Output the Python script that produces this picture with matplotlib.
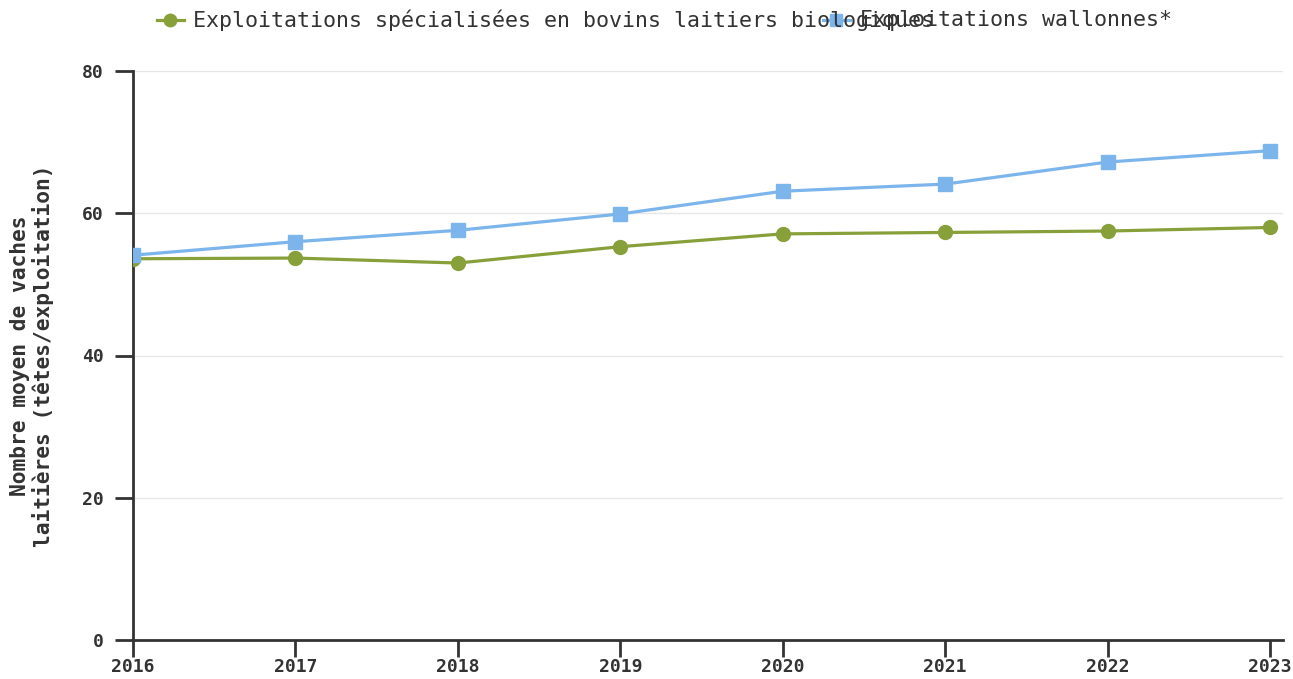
import matplotlib
matplotlib.use("Agg")
import matplotlib.pyplot as plt
from matplotlib.lines import Line2D

years = [2016, 2017, 2018, 2019, 2020, 2021, 2022, 2023]
bio = [53.6, 53.7, 53.0, 55.3, 57.1, 57.3, 57.5, 58.0]
wallonie = [54.1, 56.0, 57.6, 59.9, 63.1, 64.1, 67.2, 68.8]
label_bio = "Exploitations spécialisées en bovins laitiers biologiques"
label_wal = "Exploitations wallonnes*"
y_ticks = [0, 20, 40, 60, 80]

green = "#88a03a"
blue = "#7cb5ec"
dark = "#333333"

plt.rcParams['font.family'] = ['DejaVu Sans Mono']

fig = plt.figure(figsize=(12.93, 6.79), dpi=100)
ax = fig.add_axes([133 / 1293, 1 - 640 / 679, 1150 / 1293, (640 - 71) / 679])

ax.plot(years, bio, color=green, lw=2.3, marker='o', ms=10, zorder=3)
ax.plot(years, wallonie, color=blue, lw=2.3, marker='s', ms=10.5, zorder=3)

ax.set_xlim(2016, 2023.08)
ax.set_ylim(0, 80)
ax.set_yticks(y_ticks)
ax.set_xticks(years)
ax.grid(axis='y', color='#e6e6e6', lw=1)
ax.set_axisbelow(True)
for s in ['top', 'right']:
    ax.spines[s].set_visible(False)
for s in ['left', 'bottom']:
    ax.spines[s].set_color(dark)
    ax.spines[s].set_linewidth(2)
ax.tick_params(axis='y', length=13, width=2, color=dark, pad=8,
               labelsize=13, labelcolor=dark)
ax.tick_params(axis='x', length=12, width=2, color=dark, pad=1,
               labelsize=13, labelcolor=dark)
for t in ax.get_xticklabels() + ax.get_yticklabels():
    t.set_fontweight('bold')
ax.set_ylabel("Nombre moyen de vaches\nlaitières (têtes/exploitation)",
              fontsize=15.3, fontweight='bold', color=dark, labelpad=20,
              linespacing=1.15)

# legend drawn at the top, entries overlapping like in the source
ly = 1 - 20 / 679
fig.add_artist(Line2D([157 / 1293, 184 / 1293], [ly, ly], color=green,
                      lw=2.3, transform=fig.transFigure))
fig.add_artist(Line2D([170 / 1293], [ly], color=green, marker='o', ms=9,
                      transform=fig.transFigure))
fig.text(193 / 1293, ly, label_bio, fontsize=15.6, color=dark,
         va='center', ha='left')
fig.add_artist(Line2D([823 / 1293, 850 / 1293], [ly, ly], color=blue,
                      lw=2.3, transform=fig.transFigure))
fig.add_artist(Line2D([836 / 1293], [ly], color=blue, marker='s', ms=9,
                      transform=fig.transFigure))
fig.text(860 / 1293, ly, label_wal, fontsize=15.6, color=dark,
         va='center', ha='left')

fig.savefig("out.png", dpi=100)
